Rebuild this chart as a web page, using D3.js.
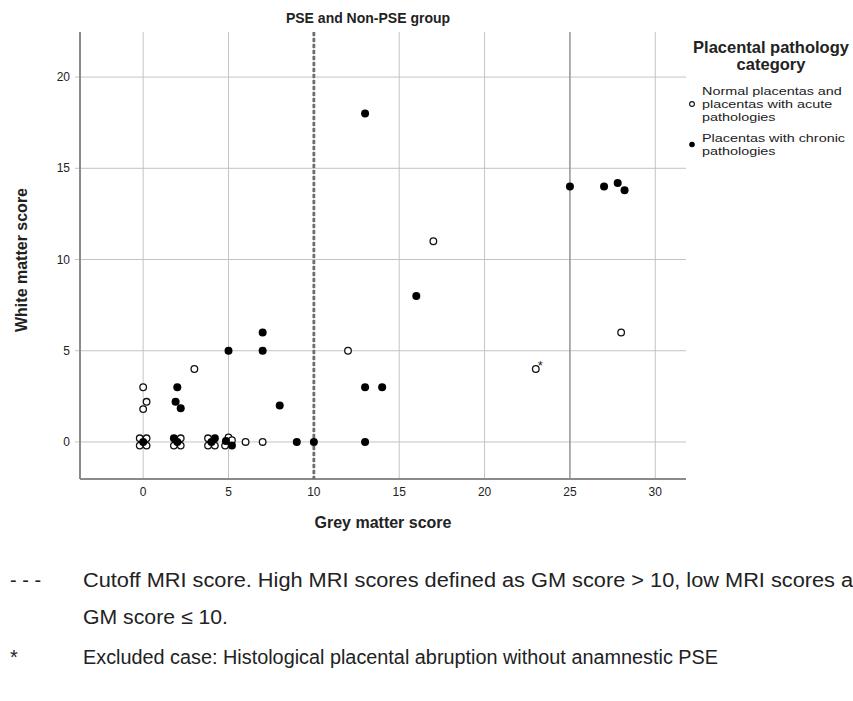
<!DOCTYPE html>
<html>
<head>
<meta charset="utf-8">
<script src="https://cdn.jsdelivr.net/npm/d3@7"></script>
<style>
  body { margin: 0; background: #fff; }
  svg { display: block; font-family: "Liberation Sans", Arial, sans-serif; }
</style>
</head>
<body>
<svg id="chart"></svg>
<script>
// data (plotted positions, including SPSS jitter)
let normalPoints = [
  [-0.2, 0.2], [0.2, 0.2], [-0.2, -0.2], [0.2, -0.2],
  [0, 3], [0.2, 2.2], [0, 1.8],
  [3, 4],
  [2.2, 0.2], [1.8, -0.2], [2.2, -0.2],
  [3.8, 0.2], [3.8, -0.2], [4.2, -0.2],
  [5, 0.25], [5.2, 0.1], [4.8, -0.2],
  [6, 0], [7, 0],
  [12, 5], [17, 11], [23, 4], [28, 6]
];
let chronicPoints = [
  [0, 0], [2, 0], [1.8, 0.2], [4, 0], [4.2, 0.2], [4.85, 0.05], [5.2, -0.2],
  [2, 3], [1.9, 2.2], [2.2, 1.85],
  [5, 5], [7, 5], [7, 6], [8, 2], [9, 0], [10, 0],
  [13, 0], [13, 3], [14, 3], [13, 18], [16, 8],
  [25, 14], [27, 14], [27.8, 14.2], [28.2, 13.8]
];
let excludedCase = [23, 4];
let xTicks = [0, 5, 10, 15, 20, 25, 30];
let yTicks = [0, 5, 10, 15, 20];
let cutoff = 10;
let refLine = 25;
let legendLabels = [
  ["Normal placentas and", "placentas with acute", "pathologies"],
  ["Placentas with chronic", "pathologies"]
];
let footnotes = [
  ["- - -", "Cutoff MRI score. High MRI scores defined as GM score > 10, low MRI scores as"],
  ["", "GM score \u2264 10."],
  ["*", "Excluded case: Histological placental abruption without anamnestic PSE"]
];

let width = 853;
let height = 701;
let plotLeft = 80, plotRight = 686, plotTop = 32, plotBottom = 479;

let svg = d3.select("#chart").attr("width", width).attr("height", height);

let xScale = d3.scaleLinear().domain([-3.7, 31.8]).range([plotLeft, plotRight]);
let yScale = d3.scaleLinear().domain([-2.03, 22.47]).range([plotBottom, plotTop]);

// gridlines
svg.append("g").selectAll("line")
  .data(yTicks).enter().append("line")
  .attr("x1", plotLeft - 5).attr("x2", plotRight)
  .attr("y1", d => yScale(d)).attr("y2", d => yScale(d))
  .attr("stroke", "#c4c4c4").attr("stroke-width", 1);

svg.append("g").selectAll("line")
  .data(xTicks).enter().append("line")
  .attr("x1", d => xScale(d)).attr("x2", d => xScale(d))
  .attr("y1", plotTop).attr("y2", plotBottom)
  .attr("stroke", d => d === refLine ? "#9a9a9a" : "#c4c4c4")
  .attr("stroke-width", d => d === refLine ? 1.6 : 1);

// axes lines
svg.append("line").attr("x1", plotLeft).attr("x2", plotLeft).attr("y1", plotTop).attr("y2", plotBottom)
  .attr("stroke", "#8a8a8a").attr("stroke-width", 2);
svg.append("line").attr("x1", plotLeft).attr("x2", plotRight).attr("y1", plotBottom).attr("y2", plotBottom)
  .attr("stroke", "#8a8a8a").attr("stroke-width", 2);

// tick labels
svg.append("g").selectAll("text")
  .data(yTicks).enter().append("text")
  .attr("x", plotLeft - 10).attr("y", d => yScale(d) + 4)
  .attr("text-anchor", "end").attr("font-size", 12).attr("fill", "#222")
  .text(d => d);
svg.append("g").selectAll("text")
  .data(xTicks).enter().append("text")
  .attr("x", d => xScale(d)).attr("y", plotBottom + 17)
  .attr("text-anchor", "middle").attr("font-size", 12).attr("fill", "#222")
  .text(d => d);

// cutoff line
svg.append("line")
  .attr("x1", xScale(cutoff)).attr("x2", xScale(cutoff))
  .attr("y1", plotTop).attr("y2", plotBottom)
  .attr("stroke", "#6e6e6e").attr("stroke-width", 2.8)
  .attr("stroke-dasharray", "4,2");

// points
svg.append("g").selectAll("circle")
  .data(normalPoints).enter().append("circle")
  .attr("cx", d => xScale(d[0])).attr("cy", d => yScale(d[1]))
  .attr("r", 3.3).attr("fill", "#fff")
  .attr("stroke", "#111").attr("stroke-width", 1.3);

svg.append("g").selectAll("circle")
  .data(chronicPoints).enter().append("circle")
  .attr("cx", d => xScale(d[0])).attr("cy", d => yScale(d[1]))
  .attr("r", 4).attr("fill", "#000");

svg.append("text")
  .attr("x", xScale(excludedCase[0]) + 2).attr("y", yScale(excludedCase[1]) + 1)
  .attr("font-size", 13).attr("fill", "#222").text("*");

// title and axis titles
svg.append("text").attr("x", 368).attr("y", 23)
  .attr("text-anchor", "middle").attr("font-size", 14).attr("font-weight", "bold")
  .attr("fill", "#222").text("PSE and Non-PSE group");

svg.append("text").attr("x", 383).attr("y", 528)
  .attr("text-anchor", "middle").attr("font-size", 16).attr("font-weight", "bold")
  .attr("fill", "#222").text("Grey matter score");

svg.append("text")
  .attr("transform", "translate(27," + 260 + ") rotate(-90)")
  .attr("text-anchor", "middle").attr("font-size", 16).attr("font-weight", "bold")
  .attr("fill", "#222").text("White matter score");

// legend
let legend = svg.append("g");
legend.append("text").attr("x", 771).attr("y", 53)
  .attr("text-anchor", "middle").attr("font-size", 16.5).attr("font-weight", "bold")
  .attr("fill", "#222").text("Placental pathology");
legend.append("text").attr("x", 771).attr("y", 70)
  .attr("text-anchor", "middle").attr("font-size", 16.5).attr("font-weight", "bold")
  .attr("fill", "#222").text("category");

let itemTop = [95, 142];
legendLabels.forEach((lines, i) => {
  lines.forEach((line, j) => {
    let t = legend.append("text").attr("x", 702).attr("y", itemTop[i] + j * 13)
      .attr("font-size", 11.5).attr("fill", "#222").text(line);
    // the original face is wider than this one at the same height
    let len = t.node().getComputedTextLength();
    t.attr("textLength", len * 1.25).attr("lengthAdjust", "spacingAndGlyphs");
  });
  let midY = itemTop[i] + (lines.length - 1) * 13 / 2 - 4;
  legend.append("circle").attr("cx", 692).attr("cy", midY)
    .attr("r", i === 0 ? 2.4 : 2.8)
    .attr("fill", i === 0 ? "#fff" : "#000")
    .attr("stroke", "#111").attr("stroke-width", i === 0 ? 1.1 : 0);
});

// footnotes
let noteY = [587, 624, 664];
let noteWidth = [781, 145, 635];
footnotes.forEach((note, i) => {
  svg.append("text").attr("x", 10).attr("y", noteY[i])
    .attr("font-size", 20).attr("fill", "#222").text(note[0]);
  svg.append("text").attr("x", 83).attr("y", noteY[i])
    .attr("font-size", 20).attr("fill", "#222")
    .attr("textLength", noteWidth[i]).attr("lengthAdjust", "spacingAndGlyphs")
    .text(note[1]);
});
</script>
</body>
</html>
